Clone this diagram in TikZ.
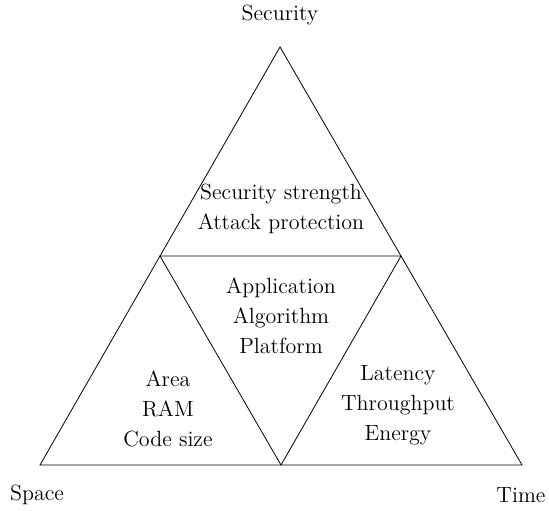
\documentclass[tikz,border=0pt]{standalone}
\tikzset{lbl/.style={align=center,font=\fontsize{11}{15}\selectfont}}
\begin{document}
\begin{tikzpicture}[x=0.5pt,y=-0.5pt]
	\useasboundingbox (0,0) rectangle (549,510);
	\coordinate (top) at (280,47);
	\coordinate (bl) at (40,465);
	\coordinate (br) at (522,465);
	\coordinate (ml) at (160,256);
	\coordinate (mr) at (401,256);
	\coordinate (mb) at (281,465);
	\draw (top) -- (bl) -- (br) -- cycle;
	\draw (ml) -- (mr) -- (mb) -- cycle;
	\node[lbl] (security) at (280,15) {Security};
	\node[lbl] (space) at (37,495) {Space};
	\node[lbl] (time) at (521,495) {Time};
	\node[lbl] (strength) at (281,209) {Security strength\\Attack protection};
	\node[lbl] (app) at (281,316) {Application\\Algorithm\\Platform};
	\node[lbl] (area) at (168,409) {Area\\RAM\\Code size};
	\node[lbl] (latency) at (398,405) {Latency\\Throughput\\Energy};
\end{tikzpicture}
\end{document}
